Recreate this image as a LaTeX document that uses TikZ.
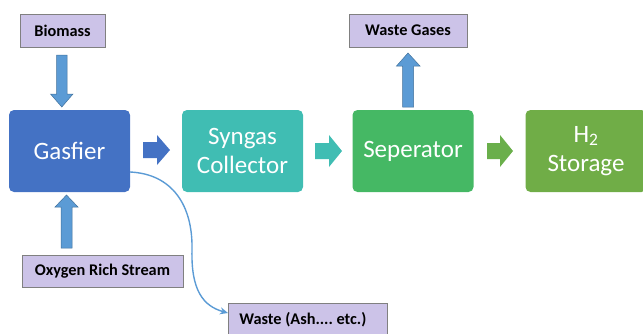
\documentclass[tikz,border=0pt]{standalone}
\usepackage{fontspec}
\setmainfont{Carlito}
\definecolor{gasblue}{HTML}{4472C4}
\definecolor{synteal}{HTML}{40BDB3}
\definecolor{sepgreen}{HTML}{45B864}
\definecolor{hgreen}{HTML}{70AD47}
\definecolor{flowblue}{HTML}{5B9BD5}
\definecolor{flowedge}{HTML}{41719C}
\definecolor{lav}{HTML}{CCC3E8}
\definecolor{lavedge}{HTML}{808080}
\usetikzlibrary{arrows.meta}
\begin{document}
\begin{tikzpicture}[x=1pt,y=-1pt,
  unit/.style={rounded corners=5pt, minimum width=121pt, minimum height=82pt,
    inner sep=0pt, text=white, font=\fontsize{25}{29.5}\selectfont, align=center},
  tag/.style={draw=lavedge, line width=0.8pt, fill=lav, inner sep=0pt,
    font=\bfseries\fontsize{16.3}{19}\selectfont\frenchspacing, text=black},
  feed/.style={fill=flowblue, draw=flowedge, line width=0.5pt}]
\useasboundingbox (0,0) rectangle (643,333);
\clip (0,0) rectangle (643,333);

% process units
\node[unit, fill=gasblue] (gas) at (69.5,151) {Gasfier};
\node[unit, fill=synteal] (syn) at (242.5,151) {Syngas\\Collector};
\node[unit, fill=sepgreen] (sep) at (413,151) {Seperator};
\node[unit, fill=hgreen] (htwo) at (586,151) {H\textsubscript{2}\\Storage};

% input and output labels
\node[tag, minimum width=85pt, minimum height=33pt] (bio) at (62.5,30.5) {Biomass};
\node[tag, minimum width=161pt, minimum height=32pt] (oxy) at (102.5,271) {Oxygen Rich Stream};
\node[tag, minimum width=118pt, minimum height=33pt] (wg) at (408,30.5) {Waste Gases};
\node[tag, anchor=north west, minimum height=32pt, text width=137pt,
      inner xsep=11pt, align=flush left] (waste) at (228,303) {Waste (Ash.... etc.)};

% block arrows between units
\fill[gasblue]  (143,142) -- (157,142) -- (157,135) -- (170,150) -- (157,165) -- (157,158) -- (143,158) -- cycle;
\fill[synteal]  (315,143) -- (329,143) -- (329,135) -- (342,151) -- (329,167) -- (329,159) -- (315,159) -- cycle;
\fill[hgreen!85!sepgreen] (487,143) -- (500,143) -- (500,135) -- (513,151) -- (500,167) -- (500,159) -- (487,159) -- cycle;

% feed arrows
\draw[feed] (56.5,55) -- (67,55) -- (67,94) -- (73,94) -- (61.8,107) -- (50.5,94) -- (56.5,94) -- cycle;
\draw[feed] (61,248) -- (72,248) -- (72,207) -- (78,207) -- (66.5,195) -- (55,207) -- (61,207) -- cycle;
\draw[feed] (402.5,107) -- (413.5,107) -- (413.5,66) -- (420,66) -- (408,53) -- (396.5,66) -- (402.5,66) -- cycle;

% ash and residue line
\coordinate (gasout) at ([yshift=-21pt]gas.east);
\draw[flowblue, line width=1.4pt, -{Stealth[length=8pt,width=7pt]}]
  (gasout) .. controls (172,174) and (193,205) .. (192,250)
  .. controls (191,290) and (203,306) .. (waste.west |- 0,313);
\end{tikzpicture}
\end{document}
